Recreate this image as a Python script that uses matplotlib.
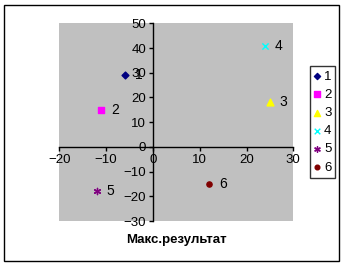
import matplotlib.pyplot as plt
from matplotlib.patches import Rectangle

# data
labels = ['1', '2', '3', '4', '5', '6']
x_vals = [-6, -11, 25, 24, -12, 12]
y_vals = [29, 15, 18, 41, -18, -15]
colors = ['#000080', '#FF00FF', '#FFFF00', '#00FFFF', '#800080', '#800000']
markers = ['D', 's', '^', 'x', (6, 2, 0), 'o']
sizes = [12, 20, 24, 20, 20, 14]

plt.rcParams['font.family'] = ['Liberation Sans', 'DejaVu Sans']
plt.rcParams['font.size'] = 9.5

fig = plt.figure(figsize=(3.46, 2.67), dpi=100)
fig.patches.append(Rectangle((4 / 346, 6 / 267), 335 / 346, 256 / 267,
                             transform=fig.transFigure, fill=False,
                             edgecolor='black', linewidth=1.0))

ax = fig.add_axes([59.3 / 346, 46 / 267, 234 / 346, 197.7 / 267])
ax.set_facecolor('#C0C0C0')

for lab, x, y, c, m, s in zip(labels, x_vals, y_vals, colors, markers, sizes):
    ax.scatter(x, y, color=c, marker=m, s=s, linewidths=1.0, label=lab, zorder=3)
    ax.annotate(lab, (x, y), xytext=(7, 0), textcoords='offset points',
                va='center', ha='left', fontsize=10)

ax.set_xlim(-20, 30)
ax.set_ylim(-30, 50)
ax.set_xticks(range(-20, 31, 10))
ax.set_yticks(range(-30, 51, 10))

ax.spines['left'].set_position(('data', 0))
ax.spines['bottom'].set_position(('data', 0))
ax.spines['top'].set_visible(False)
ax.spines['right'].set_visible(False)
for s in ['left', 'bottom']:
    ax.spines[s].set_linewidth(1.0)
ax.tick_params(direction='out', length=3, width=1.0, pad=2, labelsize=9.5)

fig.text(176 / 346, 1 - 240 / 267, 'Макс.результат', ha='center', va='center',
         fontweight='bold', fontsize=9.5)

leg = fig.legend(loc='center', bbox_to_anchor=(322.5 / 346, 1 - 122 / 267),
                 frameon=True, fancybox=False, edgecolor='black',
                 handlelength=0.6, handletextpad=0.2, borderpad=0.3,
                 labelspacing=0.45, borderaxespad=0, fontsize=9.5,
                 markerscale=0.9)
leg.get_frame().set_linewidth(1.0)

fig.savefig('out.png', dpi=100)
